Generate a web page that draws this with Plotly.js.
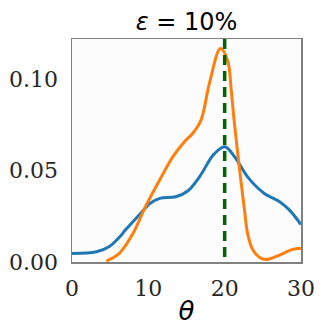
<!DOCTYPE html>
<html>
<head>
<meta charset="utf-8">
<script src="https://cdn.plot.ly/plotly-3.0.1.min.js"></script>
<style>
  body { margin: 0; background: #fff; }
  #plot { width: 328px; height: 336px; }
</style>
</head>
<body>
<div id="plot"></div>
<script>
// Density curves
var blueX = [0, 3.2, 4.9, 6.2, 7.1, 8.8, 10.2, 11.5, 13.6, 15.2, 16.7, 18.6, 20.0, 21.3, 23.0, 25.2, 27.2, 28.5, 30];
var blueY = [0.0047, 0.0056, 0.0085, 0.0135, 0.0180, 0.0257, 0.032, 0.0348, 0.0357, 0.039, 0.0466, 0.059, 0.063, 0.0576, 0.0466, 0.0375, 0.033, 0.0284, 0.0205];

var orangeX = [4.5, 6.2, 8.0, 9.7, 11.5, 13.2, 14.7, 15.8, 16.9, 18.0, 19.45, 20.4, 20.86, 21.2, 21.64, 22.17, 22.6, 23.0, 23.7, 24.8, 25.6, 27.2, 28.9, 30];
var orangeY = [0.0005, 0.0047, 0.0157, 0.031, 0.045, 0.0575, 0.0657, 0.0703, 0.0776, 0.0977, 0.1168, 0.110, 0.094, 0.079, 0.062, 0.043, 0.0284, 0.0157, 0.0066, 0.002, 0.0014, 0.0038, 0.0069, 0.0075];

// True value marker
var trueTheta = 20;

var xTicks = [0, 10, 20, 30];
var yTicks = [0, 0.05, 0.10];

var trace1 = {
    x: blueX,
    y: blueY,
    type: 'scatter',
    mode: 'lines',
    line: { color: '#1f77b4', width: 3, shape: 'spline', smoothing: 1 },
    hoverinfo: 'skip'
};
var trace2 = {
    x: orangeX,
    y: orangeY,
    type: 'scatter',
    mode: 'lines',
    line: { color: '#ff7f0e', width: 3, shape: 'spline', smoothing: 1 },
    hoverinfo: 'skip'
};
var data = [trace1, trace2];

var tickFont = { family: 'DejaVu Serif', size: 22, color: '#262626' };

var layout = {
    width: 328,
    height: 336,
    margin: { l: 72, r: 27, t: 39, b: 74 },
    paper_bgcolor: '#ffffff',
    plot_bgcolor: '#fcfcfc',
    showlegend: false,
    title: {
        text: '<i>ε</i> = 10%',
        font: { family: 'DejaVu Sans', size: 24, color: '#000000' },
        xref: 'paper',
        x: 0.5,
        xanchor: 'center',
        y: 1 - 22 / 336,
        yanchor: 'middle'
    },
    xaxis: {
        range: [0, 30],
        tickvals: xTicks,
        ticktext: xTicks.map(String),
        tickfont: tickFont,
        ticks: 'outside',
        ticklen: 6,
        tickcolor: 'rgba(0,0,0,0)',
        showgrid: false,
        zeroline: false,
        showline: true,
        mirror: true,
        linecolor: '#808080',
        linewidth: 1.5,
        title: {
            text: '<i>θ</i>',
            font: { family: 'DejaVu Sans', size: 26, color: '#000000' },
            standoff: 2
        }
    },
    yaxis: {
        range: [0, 0.122],
        tickvals: yTicks,
        tickformat: '.2f',
        tickfont: tickFont,
        ticks: 'outside',
        ticklen: 8,
        tickcolor: 'rgba(0,0,0,0)',
        showgrid: false,
        zeroline: false,
        showline: true,
        mirror: true,
        linecolor: '#808080',
        linewidth: 1.5
    },
    shapes: [{
        type: 'line',
        xref: 'x',
        yref: 'paper',
        x0: trueTheta,
        x1: trueTheta,
        y0: 1,
        y1: 0,
        line: { color: '#006400', width: 3.5, dash: '10px,6px' }
    }]
};

Plotly.newPlot('plot', data, layout, { staticPlot: true, displayModeBar: false });
</script>
</body>
</html>
